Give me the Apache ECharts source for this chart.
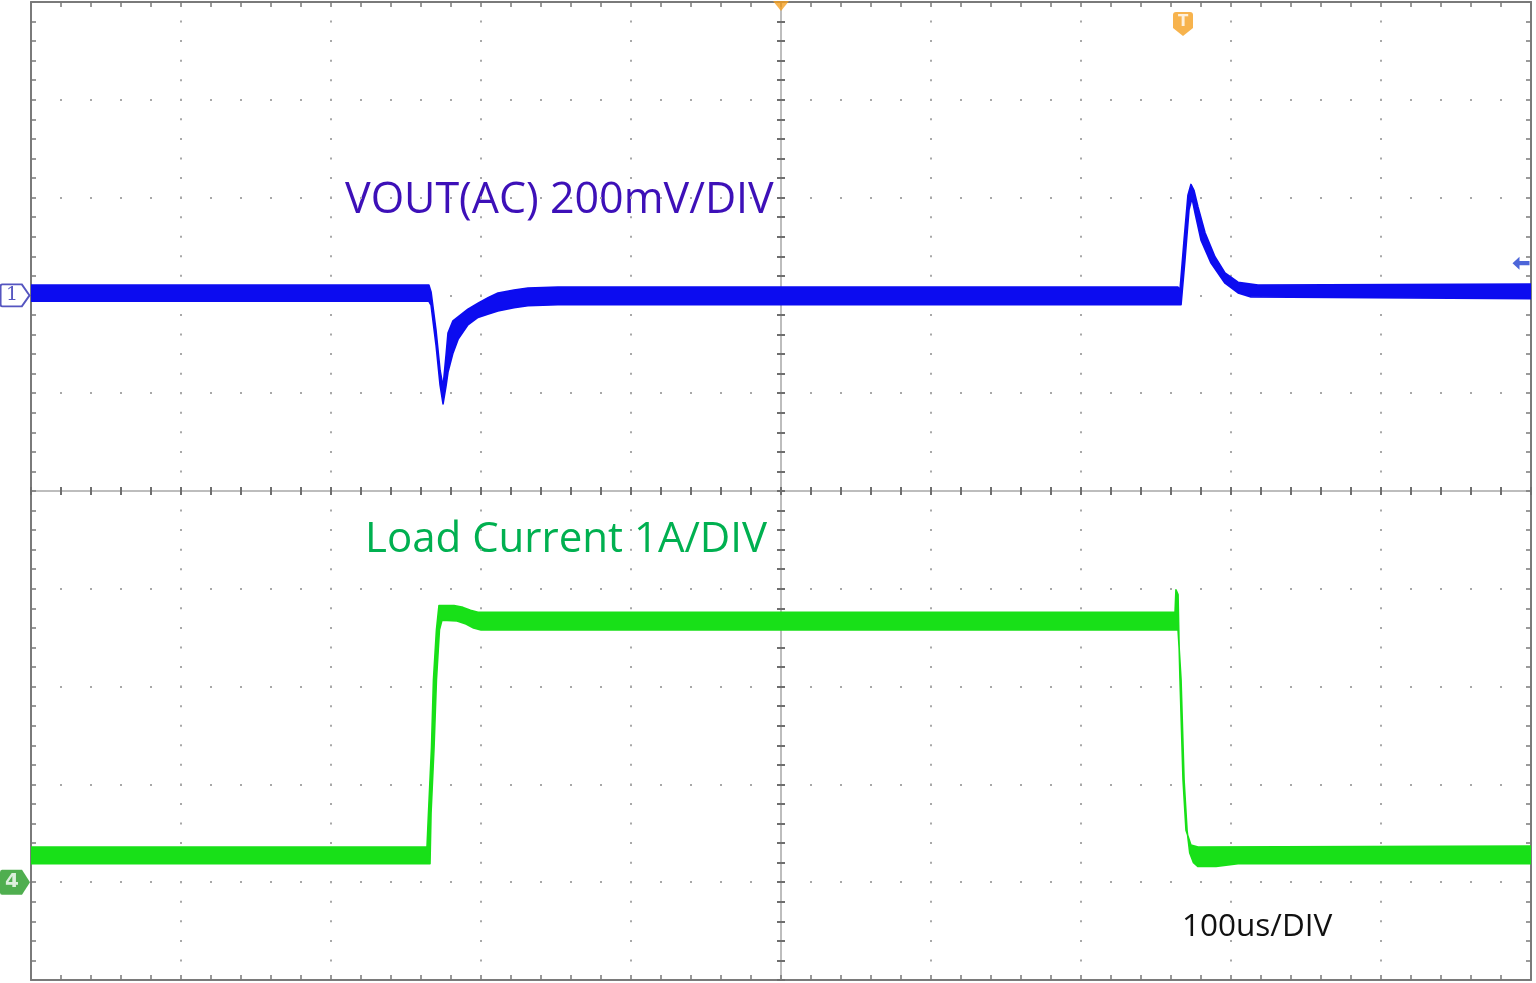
<!DOCTYPE html>
<html>
<head>
<meta charset="utf-8">
<script src="https://cdn.jsdelivr.net/npm/echarts@6/dist/echarts.min.js"></script>
<style>
html,body{margin:0;padding:0;background:#fff;}
#chart{width:1536px;height:983px;}
</style>
</head>
<body>
<div id="chart"></div>
<script>
// ---- Data (time in us relative to trigger, CH1 in mV, CH4 in A) ----
const timeTicks = [-500, 500, 100];           // min, max, 100us/DIV
const ch1Scale = [-1400, 600, 200];           // 200mV/DIV
const ch4Scale = [-1, 9, 1];                  // 1A/DIV

// CH1 (VOUT AC) noise band envelopes [t(us), mV]
const ch1Upper = [[-500, 21], [-234.7, 21], [-233.3, 7], [-230, -71], [-227.3, -153], [-225.3, -187],
  [-223.3, -122], [-222, -77], [-218.7, -52], [-215.3, -44], [-208.7, -28], [-202, -16], [-195, -4], [-188.7, 5],
  [-178, 11], [-168.7, 15], [-148.7, 17], [264.7, 17], [266, 11], [268.7, 113], [271.3, 205], [273.3, 227],
  [275.3, 215], [278, 181], [282.7, 128], [289.3, 79], [296, 46], [304.7, 27], [318, 21], [500, 23]];
const ch1Lower = [[-500, -12], [-234.7, -12], [-233.3, -20], [-230, -101], [-227.3, -183], [-225.3, -222],
  [-223.3, -185], [-222, -157], [-218.7, -118], [-215.3, -90], [-208.7, -60], [-202, -45], [-195, -38], [-188.7, -32],
  [-178, -25], [-168.7, -21], [-148.7, -19], [266.7, -19], [269.3, 72], [272, 175], [274, 199], [276, 169], [280, 113],
  [286.7, 66], [296, 25], [304.7, 5], [313.3, -3], [500, -7]];

// CH4 (Load current) noise band envelopes [t(us), A]
const ch4Upper = [[-500, 0.36], [-236, 0.36], [-235, 0.71], [-233, 1.38], [-231.7, 2.07], [-229.7, 2.58],
  [-228, 2.83], [-218, 2.83], [-212, 2.81], [-207, 2.78], [-202, 2.76], [262.7, 2.76], [263.3, 2.99], [264.7, 2.94], [265.3, 2.48],
  [266, 2.07], [268, 1.05], [270, 0.53], [273.3, 0.38], [278, 0.36], [500, 0.37]];
const ch4Lower = [[-500, 0.19], [-234, 0.19], [-233.3, 0.71], [-231.3, 1.38], [-229.7, 2.07], [-227.7, 2.58],
  [-226, 2.68], [-216, 2.67], [-210, 2.64], [-205, 2.6], [-200, 2.58], [264.7, 2.58], [266.7, 2.07], [268.7, 1.05], [270.7, 0.53],
  [272.5, 0.3], [275, 0.2], [278, 0.16], [290, 0.16], [304.7, 0.19], [500, 0.19]];

// Scope markers
const ch1Offset = 0;        // mV, channel 1 ground marker
const ch4Offset = 0;        // A, channel 4 ground marker
const trigLevel = 66;       // mV, trigger level arrow (right edge)
const trigTime = 0;         // us, trigger position (top)
const cursorTime = 268;     // us, "T" marker
const cursorLevel = 555;    // mV

const labels = {
  ch1: 'VOUT(AC) 200mV/DIV',
  ch4: 'Load Current 1A/DIV',
  time: '100us/DIV'
};

// ---- Styles ----
const BORDER = '#7a7a7a';
const DOT = '#a8a8a8';
const CROSS = '#bdbdbd';
const TICK = '#6e6e6e';
const BLUE = '#0c0cf0';
const GREEN = '#18e018';
const FONT = 'Open Sans';

function band(upper, lower, color) {
  return function (params, api) {
    const pts = [];
    for (let i = 0; i < upper.length; i++) pts.push(api.coord(upper[i]));
    for (let i = lower.length - 1; i >= 0; i--) pts.push(api.coord(lower[i]));
    return {
      type: 'polygon',
      shape: { points: pts, smooth: 0 },
      style: { fill: color, stroke: color, lineWidth: 1.6, lineJoin: 'round' }
    };
  };
}

function borderX(pos) {
  return {
    type: 'value', min: timeTicks[0], max: timeTicks[1], interval: timeTicks[2], position: pos,
    axisLine: { show: true, onZero: false, lineStyle: { color: BORDER, width: 2 } },
    axisTick: { show: true, inside: true, length: 5, lineStyle: { color: BORDER, width: 1.5 } },
    minorTick: { show: true, splitNumber: 5, length: 5, lineStyle: { color: BORDER, width: 1.5 } },
    axisLabel: { show: false },
    splitLine: pos === 'bottom' ? { show: true, lineStyle: { color: DOT, width: 2, type: [2, 17.56], dashOffset: 1 } } : { show: false }
  };
}
function crossX(inside) {
  return {
    type: 'value', min: timeTicks[0], max: timeTicks[1], interval: timeTicks[2], position: 'bottom',
    axisLine: { show: true, onZero: true, onZeroAxisIndex: 2, lineStyle: { color: CROSS, width: 2 } },
    axisTick: { show: true, inside: inside, length: 4, lineStyle: { color: TICK, width: 2 } },
    minorTick: { show: true, splitNumber: 5, length: 4, lineStyle: { color: TICK, width: 2 } },
    axisLabel: { show: false }, splitLine: { show: false }
  };
}
function crossY(inside) {
  return {
    type: 'value', min: -5, max: 5, interval: 1, position: 'left',
    axisLine: { show: true, onZero: true, onZeroAxisIndex: 0, lineStyle: { color: CROSS, width: 2 } },
    axisTick: { show: true, inside: inside, length: 4, lineStyle: { color: TICK, width: 2 } },
    minorTick: { show: true, splitNumber: 5, length: 4, lineStyle: { color: TICK, width: 2 } },
    axisLabel: { show: false }, splitLine: { show: false }
  };
}

const chart = echarts.init(document.getElementById('chart'), null, { renderer: 'canvas' });
chart.setOption({
  animation: false,
  backgroundColor: '#ffffff',
  grid: { left: 31, right: 5, top: 2, bottom: 3, containLabel: false },
  xAxis: [borderX('bottom'), borderX('top'), crossX(true), crossX(false)],
  yAxis: [
    {
      type: 'value', min: ch1Scale[0], max: ch1Scale[1], interval: ch1Scale[2], position: 'left',
      axisLine: { show: true, onZero: false, lineStyle: { color: BORDER, width: 2 } },
      axisTick: { show: true, inside: true, length: 5, lineStyle: { color: BORDER, width: 1.5 } },
      minorTick: { show: true, splitNumber: 5, length: 5, lineStyle: { color: BORDER, width: 1.5 } },
      axisLabel: { show: false },
      splitLine: { show: true, lineStyle: { color: DOT, width: 2, type: [2, 28], dashOffset: 1 } }
    },
    {
      type: 'value', min: ch4Scale[0], max: ch4Scale[1], interval: ch4Scale[2], position: 'right',
      axisLine: { show: true, onZero: false, lineStyle: { color: BORDER, width: 2 } },
      axisTick: { show: true, inside: true, length: 5, lineStyle: { color: BORDER, width: 1.5 } },
      minorTick: { show: true, splitNumber: 5, length: 5, lineStyle: { color: BORDER, width: 1.5 } },
      axisLabel: { show: false }, splitLine: { show: false }
    },
    crossY(true), crossY(false)
  ],
  graphic: [
    { type: 'text', left: 345, top: 179, style: { text: labels.ch1, fill: '#3d10b8', font: '43px "' + FONT + '"' } },
    { type: 'text', left: 365, top: 519, style: { text: labels.ch4, fill: '#00b050', font: '42px "' + FONT + '"' } },
    { type: 'text', left: 1182, top: 911, style: { text: labels.time, fill: '#111111', font: '31.5px "' + FONT + '"' } }
  ],
  series: [
    { type: 'custom', xAxisIndex: 0, yAxisIndex: 0, data: [[0, 0]], renderItem: band(ch1Upper, ch1Lower, BLUE), clip: true, z: 5 },
    { type: 'custom', xAxisIndex: 0, yAxisIndex: 1, data: [[0, 0]], renderItem: band(ch4Upper, ch4Lower, GREEN), clip: true, z: 5 },
    {
      type: 'scatter', xAxisIndex: 0, yAxisIndex: 0, clip: false, z: 10, silent: true,
      data: [[timeTicks[0], ch1Offset]],
      symbol: 'path://M2,0 H22 L30,10 L22,20 H2 Q0,20 0,18 V2 Q0,0 2,0 Z', symbolSize: [29, 22], symbolOffset: [-16, 0],
      itemStyle: { color: '#ffffff', borderColor: '#2a2ab0', borderWidth: 1.8 },
      label: { show: true, position: 'inside', offset: [-3, 0], formatter: '1', color: '#2a2ab0', fontSize: 19, fontFamily: 'DejaVu Serif' }
    },
    {
      type: 'scatter', xAxisIndex: 0, yAxisIndex: 1, clip: false, z: 10, silent: true,
      data: [[timeTicks[0], ch4Offset]],
      symbol: 'path://M2,0 H22 L30,10 L22,20 H2 Q0,20 0,18 V2 Q0,0 2,0 Z', symbolSize: [30, 25], symbolOffset: [-16, 0],
      itemStyle: { color: '#239a23' },
      label: { show: true, position: 'inside', offset: [-3, 0], formatter: '4', color: '#ffffff', fontSize: 20, fontWeight: 'bold', fontFamily: 'DejaVu Sans' }
    },
    {
      type: 'scatter', xAxisIndex: 0, yAxisIndex: 0, clip: false, z: 10, silent: true,
      data: [[timeTicks[1], trigLevel]],
      symbol: 'path://M0,6 L7,0 L7,4 L17,4 L17,8 L7,8 L7,12 Z', symbolSize: [17, 13], symbolOffset: [-10, 0],
      itemStyle: { color: '#2040d0' }
    },
    {
      type: 'scatter', xAxisIndex: 0, yAxisIndex: 0, clip: false, z: 10, silent: true,
      data: [[trigTime, ch1Scale[1]]],
      symbol: 'path://M0,0 L16,0 L8,10 Z', symbolSize: [16, 10], symbolOffset: [0, 4],
      itemStyle: { color: '#f5a020' }
    },
    {
      type: 'scatter', xAxisIndex: 0, yAxisIndex: 0, clip: false, z: 10, silent: true,
      data: [[cursorTime, cursorLevel]],
      symbol: 'path://M3,0 H17 Q20,0 20,3 V16 L10,24 L0,16 V3 Q0,0 3,0 Z', symbolSize: [20, 24],
      itemStyle: { color: '#f5a020' },
      label: { show: true, position: 'inside', offset: [0, -2], formatter: 'T', color: '#ffffff', fontSize: 15, fontWeight: 'bold', fontFamily: 'DejaVu Sans' }
    }
  ]
});
</script>
</body>
</html>
